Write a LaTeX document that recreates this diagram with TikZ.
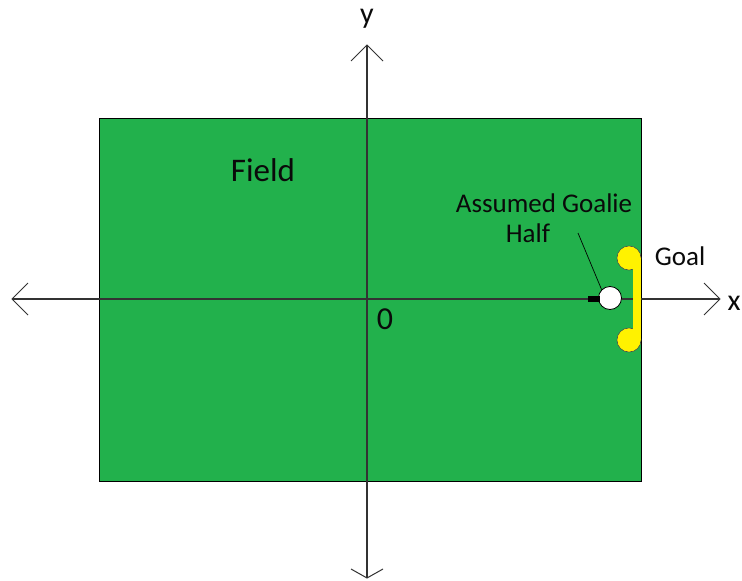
\documentclass[tikz,border=0pt]{standalone}
\usepackage{fontspec}
\setmainfont{Carlito}
\definecolor{fieldgreen}{HTML}{22B14C}
\definecolor{goalyellow}{HTML}{FFF200}
\definecolor{txt}{HTML}{0A0A0A}
\begin{document}
\begin{tikzpicture}[x=1pt,y=-1pt,
  axis/.style={draw=black!80,line width=1.2pt},
  head/.style={draw=black!80,line width=1pt},
  lbl/.style={inner sep=0pt,text=txt}]
\useasboundingbox (0,0) rectangle (742,581);
\fill[white] (0,0) rectangle (742,581);
\node[draw=black,line width=0.8pt,fill=fieldgreen,minimum width=542pt,minimum height=363pt,inner sep=0pt,anchor=north west] (field) at (99,118) {};
% axes
\coordinate (xl) at (12,299);
\coordinate (xr) at (720,299);
\coordinate (yt) at (367,45);
\coordinate (yb) at (367,578);
\draw[axis] (xl) -- (xr);
\draw[axis] (yt) -- (yb);
\draw[head] ([shift={(16,-16)}]xl) -- (xl) -- ([shift={(16,16)}]xl);
\draw[head] ([shift={(-16,-16)}]xr) -- (xr) -- ([shift={(-16,16)}]xr);
\draw[head] ([shift={(-16,16)}]yt) -- (yt) -- ([shift={(16,16)}]yt);
\draw[head] ([shift={(-16,-9)}]yb) -- (yb) -- ([shift={(16,-9)}]yb);
% goal
\coordinate (gt) at (629,258);
\coordinate (gb) at (629,340);
\fill[goalyellow,draw=black!70,line width=0.6pt] (gt) circle (12);
\fill[goalyellow,draw=black!70,line width=0.6pt] (gb) circle (12);
\fill[goalyellow] (633,258) rectangle (641,340);
\fill[goalyellow] (gt) circle (11.4);
\fill[goalyellow] (gb) circle (11.4);
% goalie
\node[circle,draw=black,fill=white,line width=0.8pt,minimum size=23pt,inner sep=0pt] (goalie) at (610,298) {};
\fill[black] (588,296) rectangle (600,301.5);
% labels
\node[lbl,font=\fontsize{33}{35}\selectfont] (fieldlbl) at (263,170) {Field};
\node[lbl,font=\fontsize{27}{29}\selectfont,anchor=base] (ag1) at (544,212) {Assumed Goalie};
\node[lbl,font=\fontsize{27}{29}\selectfont,anchor=base] (ag2) at (528,242) {Half};
\node[lbl,font=\fontsize{27}{29}\selectfont] (goal) at (680,256) {Goal};
\node[lbl,font=\fontsize{30}{32}\selectfont] (ylbl) at (367,19) {y};
\node[lbl,font=\fontsize{30}{32}\selectfont] (xlbl) at (734,303) {x};
\node[lbl,font=\fontsize{32}{34}\selectfont,anchor=base] (zero) at (385,329) {0};
\coordinate (ptr) at (578,233);
\draw[black,line width=0.7pt] (ptr) -- (goalie.north west);
\end{tikzpicture}
\end{document}
